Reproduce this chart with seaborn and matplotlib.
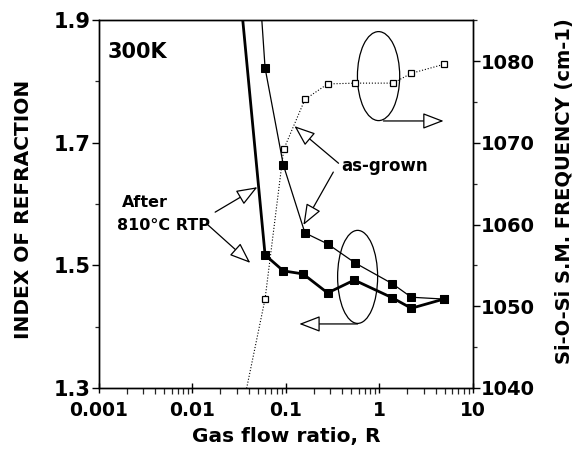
#!/usr/bin/env python3
"""Index of refraction and Si-O-Si frequency vs gas flow ratio (reproduction)."""
import pandas as pd
import seaborn as sns
import matplotlib.pyplot as plt
from matplotlib.patches import Ellipse
from matplotlib.ticker import FixedLocator, NullFormatter

# gas flow ratio R (first point of each series is where the line leaves the frame)
r_grown = [0.05, 0.06, 0.094, 0.16, 0.28, 0.55, 1.38, 2.2, 4.9]
n_grown = [2.0, 1.822, 1.664, 1.553, 1.535, 1.504, 1.470, 1.448, 1.445]
r_rtp = [0.030, 0.06, 0.094, 0.153, 0.28, 0.54, 1.38, 2.2, 4.9]
n_rtp = [2.0, 1.517, 1.491, 1.486, 1.455, 1.476, 1.447, 1.430, 1.445]
r_freq = [0.031, 0.06, 0.095, 0.16, 0.28, 0.55, 1.4, 2.2, 4.9]
freq = [1035, 1050.9, 1069.2, 1075.3, 1077.2, 1077.3, 1077.3, 1078.5, 1079.6]

left_ticks = [1.3, 1.5, 1.7, 1.9]
right_ticks = [1040, 1050, 1060, 1070, 1080]
x_ticks = [0.001, 0.01, 0.1, 1, 10]
x_labels = ["0.001", "0.01", "0.1", "1", "10"]

grown = pd.DataFrame({"R": r_grown, "n": n_grown})
rtp = pd.DataFrame({"R": r_rtp, "n": n_rtp})
fr = pd.DataFrame({"R": r_freq, "f": freq})

sns.set_theme(style="ticks")
plt.rcParams["font.family"] = ["DejaVu Sans"]
plt.rcParams["font.weight"] = "bold"
plt.rcParams["text.color"] = "black"
plt.rcParams["axes.labelcolor"] = "black"

fig = plt.figure(figsize=(5.78, 4.49), dpi=100)
ax = fig.add_axes([0.171, 0.136, 0.647, 0.819])
ax2 = ax.twinx()

sns.lineplot(data=grown, x="R", y="n", sort=False, estimator=None, ax=ax,
             color="black", linewidth=0.9, marker="s", markersize=6,
             markeredgecolor="black", markerfacecolor="black")
sns.lineplot(data=rtp, x="R", y="n", sort=False, estimator=None, ax=ax,
             color="black", linewidth=2.0, marker="s", markersize=6,
             markeredgecolor="black", markerfacecolor="black")
sns.lineplot(data=fr, x="R", y="f", sort=False, estimator=None, ax=ax2,
             color="black", linewidth=0.8, linestyle=":", marker="s",
             markersize=4.5, markeredgecolor="black", markerfacecolor="white",
             markeredgewidth=0.9)

ax.set_xscale("log")
ax.set_xlim(0.001, 10)
ax.set_ylim(1.3, 1.9)
ax2.set_ylim(1040, 1085)

ax.set_xticks(x_ticks)
ax.set_xticklabels(x_labels)
ax.set_yticks(left_ticks)
ax.set_yticklabels([f"{t:.1f}" for t in left_ticks])
ax.yaxis.set_minor_locator(FixedLocator([1.4, 1.6, 1.8]))
ax.yaxis.set_minor_formatter(NullFormatter())
ax2.set_yticks(right_ticks)
ax2.set_yticklabels([str(t) for t in right_ticks])
ax2.yaxis.set_minor_locator(FixedLocator([1045, 1055, 1065, 1075, 1085]))

for a in (ax, ax2):
    for s in a.spines.values():
        s.set_linewidth(1.0)
        s.set_color("black")
ax.tick_params(axis="x", which="major", direction="inout", length=7, width=1,
               labelsize=13.5, pad=6, colors="black")
ax.tick_params(axis="x", which="minor", direction="out", length=4, width=0.9)
ax.tick_params(axis="y", which="major", direction="out", length=5, width=1,
               labelsize=15, pad=1, colors="black")
ax.tick_params(axis="y", which="minor", direction="out", length=3, width=0.9)
ax2.tick_params(axis="y", which="major", direction="out", length=5, width=1,
                labelsize=14, pad=1, colors="black")
ax2.tick_params(axis="y", which="minor", direction="out", length=3, width=0.9)
for lab in ax.get_xticklabels() + ax.get_yticklabels() + ax2.get_yticklabels():
    lab.set_fontweight("bold")

ax.set_xlabel("Gas flow ratio, R", fontsize=14.5, fontweight="bold", labelpad=5)
ax.set_ylabel("INDEX OF REFRACTION", fontsize=14.5, fontweight="bold",
              labelpad=15, y=0.485)
ax2.set_ylabel("Si-O-Si S.M. FREQUENCY (cm-1)", fontsize=14, fontweight="bold",
               labelpad=14, y=0.535)

# annotations (axes-fraction positions)
tA = ax.transAxes
ax.text(0.024, 0.913, "300K", transform=tA, fontsize=15, fontweight="bold",
        ha="left", va="center")
ax.text(0.123, 0.505, "After", transform=tA, fontsize=11.5, fontweight="bold",
        ha="center", va="center")
ax.text(0.174, 0.443, "810°C RTP", transform=tA, fontsize=11.5, fontweight="bold",
        ha="center", va="center")
ax.text(0.764, 0.603, "as-grown", transform=tA, fontsize=12, fontweight="bold",
        ha="center", va="center")

arrow = dict(arrowstyle="-|>,head_length=1.3,head_width=0.5", fc="white",
             ec="black", lw=0.9, mutation_scale=10, shrinkA=0, shrinkB=0)
for start, tip in [((0.311, 0.478), (0.424, 0.546)),
                   ((0.292, 0.443), (0.405, 0.340)),
                   ((0.641, 0.611), (0.523, 0.712)),
                   ((0.627, 0.587), (0.547, 0.443)),
                   ((0.761, 0.726), (0.922, 0.726)),
                   ((0.692, 0.174), (0.536, 0.174))]:
    ax.annotate("", xy=tip, xytext=start, xycoords="axes fraction",
                textcoords="axes fraction", arrowprops=arrow)

ax.add_patch(Ellipse((0.748, 0.848), 0.113, 0.242, transform=tA,
                     fill=False, ec="black", lw=0.9))
ax.add_patch(Ellipse((0.692, 0.302), 0.107, 0.253, transform=tA,
                     fill=False, ec="black", lw=0.9))

fig.savefig("out.png", dpi=100)
